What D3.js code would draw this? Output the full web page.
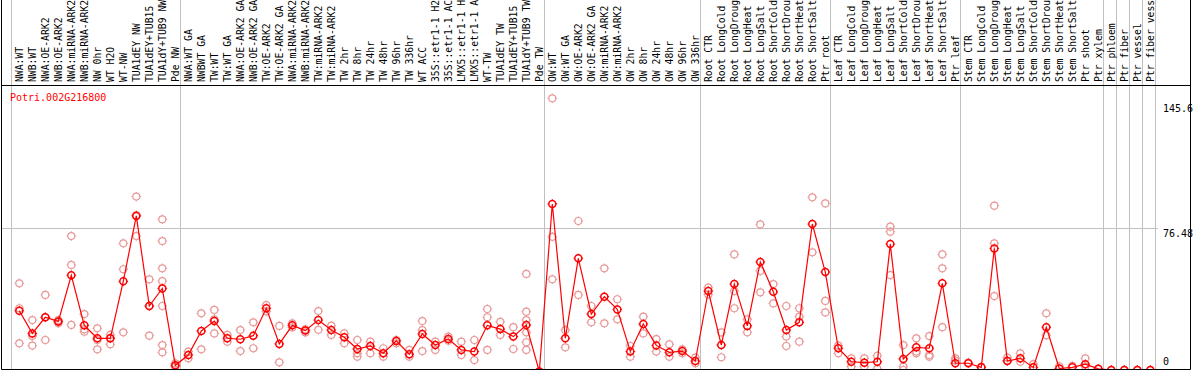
<!DOCTYPE html>
<html>
<head>
<meta charset="utf-8">
<script src="https://cdn.jsdelivr.net/npm/d3@7"></script>
<style>
  body { margin: 0; background: #fff; }
  text { font-family: "DejaVu Sans Mono", monospace; }
</style>
</head>
<body>
<div id="chart"></div>
<script>
// Expression profile chart

var geneId = "Potri.002G216800";

var conditions = [
  "NWA:WT", "NWB:WT", "NWA:OE-ARK2", "NWB:OE-ARK2", "NWA:miRNA-ARK2", "NWB:miRNA-ARK2",
  "NW 0hr", "WT H2O", "WT-NW", "TUA1dEY NW", "TUA1dEY+TUB15", "TUA1dY+TUB9 NW", "Pde NW",
  "NWA:WT GA", "NWBWT GA", "TW:WT", "TW:WT GA", "NWA:OE-ARK2 GA", "NWB:OE-ARK2 GA",
  "TW:OE-ARK2", "TW:OE-ARK2 GA", "NWA:miRNA-ARK2", "NWB:miRNA-ARK2", "TW:miRNA-ARK2",
  "TW:miRNA-ARK2", "TW 2hr", "TW 8hr", "TW 24hr", "TW 48hr", "TW 96hr", "TW 336hr",
  "WT ACC", "35S::etr1-1 H2O", "35S::etr1-1 ACC", "LMX5::etr1-1 H2O", "LMX5::etr1-1 ACC",
  "WT-TW", "TUA1dEY TW", "TUA1dEY+TUB15", "TUA1dY+TUB9 TW", "Pde TW",
  "OW:WT", "OW:WT GA", "OW:OE-ARK2", "OW:OE-ARK2 GA", "OW:miRNA-ARK2", "OW:miRNA-ARK2",
  "OW 2hr", "OW 8hr", "OW 24hr", "OW 48hr", "OW 96hr", "OW 336hr",
  "Root CTR", "Root LongCold", "Root LongDrought", "Root LongHeat", "Root LongSalt",
  "Root ShortCold", "Root ShortDrought", "Root ShortHeat", "Root ShortSalt", "Ptr root",
  "Leaf CTR", "Leaf LongCold", "Leaf LongDrought", "Leaf LongHeat", "Leaf LongSalt",
  "Leaf ShortCold", "Leaf ShortDrought", "Leaf ShortHeat", "Leaf ShortSalt", "Ptr leaf",
  "Stem CTR", "Stem LongCold", "Stem LongDrought", "Stem LongHeat", "Stem LongSalt",
  "Stem ShortCold", "Stem ShortDrought", "Stem ShortHeat", "Stem ShortSalt", "Ptr shoot",
  "Ptr xylem", "Ptr phloem", "Ptr fiber", "Ptr vessel", "Ptr fiber vessel"
];

// number of conditions in each experiment block (separated by grey lines)
var groupSizes = [13, 28, 12, 10, 10, 11, 1, 1, 1, 1];

var meanValues = [
  32.4, 20.3, 28.9, 26.7, 51.3, 24.6, 17.7, 17.7, 48.1, 82.9, 34.9, 44.3, 3.3,
  8.8, 21.6, 26.9, 17.7, 17.2, 19.1, 33.7, 14.7, 24.6, 21.8, 27.4, 22.1, 18.2,
  12.0, 13.6, 9.7, 16.3, 9.2, 20.0, 14.1, 17.3, 11.5, 10.6, 24.6, 22.6, 18.6,
  24.8, 0,
  89.3, 17.7, 60.3, 30.6, 39.9, 33.1, 10.7, 25.3, 13.9, 10.2, 10.9, 5.6,
  42.9, 14.1, 46.6, 24.3, 58.4, 42.5, 22.1, 26.2, 78.6, 53.0,
  12.4, 5.2, 4.7, 5.2, 67.9, 6.7, 12.9, 12.4, 47.0, 4.4,
  4.4, 2.2, 65.6, 5.6, 7.0, 2.2, 23.6, 1.6, 2.2, 3.9, 1.4,
  0.8, 0.8, 0.8, 0.8
];

var replicateValues = [
  [47.0, 33.7, 15.0], [27.4, 18.9, 13.8], [40.8, 28.9, 16.8], [27.4, 25.7, 26.5],
  [72.2, 56.8, 24.8], [30.6, 22.5, 21.2], [23.0, 16.8, 11.8], [19.5, 17.7, 14.5],
  [68.3, 54.5, 20.9], [93.2, 83.3, 72.2], [49.1, 34.9, 19.1],
  [81.1, 69.5, 55.0, 48.2, 34.9, 14.1, 10.2], [4.4, 2.6],
  [10.6, 7.0], [31.0, 11.8], [32.8, 27.8, 20.3], [19.5, 15.9], [22.1, 10.9],
  [26.2, 12.4], [35.4, 32.0], [24.3, 4.9], [25.7, 23.5], [22.5, 20.8], [32.2, 22.2],
  [24.4, 19.5], [20.3, 15.0], [16.8, 9.7, 7.9], [15.9, 9.7], [12.4, 7.9], [16.8, 15.0],
  [11.5, 7.9], [26.9, 22.1, 10.9], [15.9, 11.5], [18.6, 16.4], [15.9, 8.8], [16.8, 6.1],
  [33.3, 28.9, 11.5], [26.5, 19.5], [23.6, 12.0], [52.0, 31.9, 27.4, 20.9, 15.6, 11.5],
  [0, 0],
  [145.6, 71.8, 49.1], [22.1, 12.9], [80.2, 40.8], [34.9, 26.2], [55.0, 25.7],
  [38.5, 27.8], [13.6, 7.9], [29.2, 20.3], [17.3, 10.6], [14.5, 7.9], [11.8, 9.7],
  [7.4, 4.4],
  [44.7, 41.1], [20.8, 7.6], [62.4, 42.9, 33.7], [27.8, 20.9], [78.4, 53.6, 42.2],
  [46.6, 36.3], [34.9, 18.6, 13.6], [33.7, 29.2, 15.9], [92.8, 63.5], [89.6, 37.6, 31.5],
  [13.8, 9.7], [7.0, 2.6], [7.0, 2.6], [8.4, 1.4], [77.2, 74.5, 51.4],
  [14.1, 2.6, 0.8], [17.7, 10.6, 9.7], [18.9, 8.8, 7.9], [62.4, 55.0, 23.6], [7.0, 5.8],
  [4.8], [2.6], [88.4, 68.3, 40.2], [7.4, 5.8], [9.7, 5.2], [3.9], [31.0, 19.3],
  [2.8], [3.0], [7.0, 2.6], [1.4], [0.8], [0.8], [0.8], [0.8]
];

var axisTicks = [0, 76.48, 145.6];

var svgWidth = 1194;
var svgHeight = 370;

var plot = { left: 1.5, right: 1190.5, top: 85.5, bottom: 369.5 };

var svg = d3.select("#chart")
  .append("svg")
  .attr("width", svgWidth)
  .attr("height", svgHeight);

// Scales
var xBand = d3.scaleBand()
  .domain(d3.range(conditions.length))
  .range([11, 1155])
  .paddingInner(0)
  .paddingOuter(0);

var yScale = d3.scaleLinear()
  .domain([0, 145.6])
  .range([371.5, 98.3]);

var px = function(i) { return xBand(i) + 8.3; };

svg.append("defs").append("clipPath")
  .attr("id", "plotClip")
  .append("rect")
  .attr("x", 2).attr("y", 86)
  .attr("width", 1188).attr("height", 283);

// group separator lines (through header and plot)
var boundaries = [0];
groupSizes.forEach(function(n) { boundaries.push(boundaries[boundaries.length - 1] + n); });

svg.selectAll("line.sep")
  .data(boundaries)
  .enter()
  .append("line")
  .attr("class", "sep")
  .attr("x1", function(b) { return Math.round(b < conditions.length ? xBand(b) : xBand.range()[1]) + 0.5; })
  .attr("x2", function(b) { return Math.round(b < conditions.length ? xBand(b) : xBand.range()[1]) + 0.5; })
  .attr("y1", 0)
  .attr("y2", plot.bottom)
  .attr("stroke", "#c0c0c0")
  .attr("stroke-width", 1);

// horizontal grid at middle tick
svg.append("line")
  .attr("x1", plot.left)
  .attr("x2", 1158)
  .attr("y1", Math.round(yScale(axisTicks[1])) + 0.5)
  .attr("y2", Math.round(yScale(axisTicks[1])) + 0.5)
  .attr("stroke", "#c0c0c0");

// frame
svg.append("line")
  .attr("x1", plot.left).attr("x2", plot.right)
  .attr("y1", plot.top).attr("y2", plot.top)
  .attr("stroke", "#000");
svg.append("line")
  .attr("x1", plot.left).attr("x2", plot.right)
  .attr("y1", plot.bottom).attr("y2", plot.bottom)
  .attr("stroke", "#000");
svg.append("line")
  .attr("x1", plot.left).attr("x2", plot.left)
  .attr("y1", 0).attr("y2", plot.bottom)
  .attr("stroke", "#000");
svg.append("line")
  .attr("x1", plot.right).attr("x2", plot.right)
  .attr("y1", 0).attr("y2", plot.bottom)
  .attr("stroke", "#000");

// condition labels, rotated
svg.selectAll("text.cond")
  .data(conditions)
  .enter()
  .append("text")
  .attr("class", "cond")
  .attr("transform", function(d, i) { return "translate(" + (xBand(i) + 12.3) + ",82) rotate(-90)"; })
  .attr("font-size", 9.75)
  .attr("fill", "#000")
  .text(function(d) { return d; });

// right axis labels
svg.selectAll("text.tick")
  .data(axisTicks)
  .enter()
  .append("text")
  .attr("class", "tick")
  .attr("x", 1163)
  .attr("y", function(d) { return Math.max(112, Math.min(yScale(d) + 9, 365)); })
  .attr("font-size", 10)
  .attr("fill", "#000")
  .text(function(d) { return d; });

// gene id
svg.append("text")
  .attr("x", 10)
  .attr("y", 101)
  .attr("font-size", 10)
  .attr("fill", "#ff0000")
  .text(geneId);

var chartGroup = svg.append("g").attr("clip-path", "url(#plotClip)");

function marker(sel, color, sw) {
  sel.append("circle")
    .attr("r", 3.5)
    .attr("fill", "none")
    .attr("stroke", color)
    .attr("stroke-width", sw);
  sel.append("path")
    .attr("d", "M0,-3.5V-4.8M0,3.5V4.8M-3.5,0H-4.8M3.5,0H4.8")
    .attr("stroke", color)
    .attr("stroke-width", 1);
}

// replicates
var repPoints = [];
replicateValues.forEach(function(reps, i) {
  reps.forEach(function(v) { repPoints.push({ i: i, v: v }); });
});

chartGroup.selectAll("g.rep")
  .data(repPoints)
  .enter()
  .append("g")
  .attr("class", "rep")
  .attr("transform", function(d) { return "translate(" + px(d.i) + "," + yScale(d.v) + ")"; })
  .call(marker, "#e89999", 1.2);

// mean line
var line = d3.line()
  .x(function(d, i) { return px(i); })
  .y(function(d) { return yScale(d); });

chartGroup.append("path")
  .datum(meanValues)
  .attr("d", line)
  .attr("fill", "none")
  .attr("stroke", "#ff0000")
  .attr("stroke-width", 1.2);

chartGroup.selectAll("g.mean")
  .data(meanValues)
  .enter()
  .append("g")
  .attr("class", "mean")
  .attr("transform", function(d, i) { return "translate(" + px(i) + "," + yScale(d) + ")"; })
  .call(marker, "#ff0000", 1.5);
</script>
</body>
</html>
